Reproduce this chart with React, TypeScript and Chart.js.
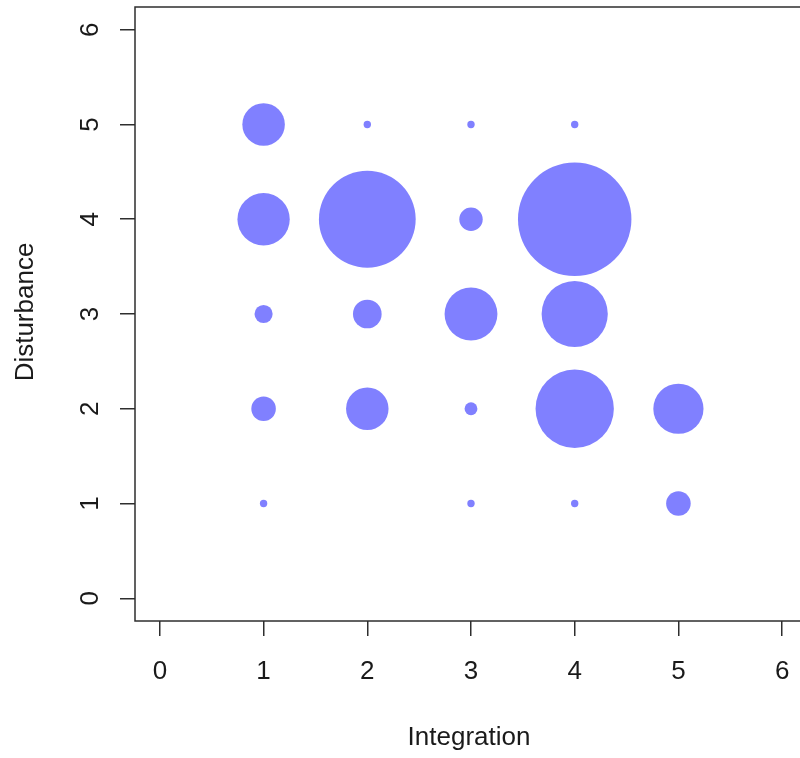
import React, { useEffect, useRef } from "react";
import { Chart, registerables } from "chart.js";

Chart.register(...registerables);

// Data
const integration = [1, 1, 1, 1, 1, 2, 2, 2, 2, 3, 3, 3, 3, 3, 4, 4, 4, 4, 4, 5, 5];
const disturbance = [1, 2, 3, 4, 5, 2, 3, 4, 5, 1, 2, 3, 4, 5, 1, 2, 3, 4, 5, 1, 2];
const counts = [1, 11, 6, 50, 33, 33, 15, 171, 1, 1, 3, 51, 10, 1, 1, 112, 80, 235, 1, 11, 46];
const tickValues = [0, 1, 2, 3, 4, 5, 6];
const tickLabels = ["0", "1", "2", "3", "4", "5", "6"];
const xTitle = "Integration";
const yTitle = "Disturbance";

const FONT = '26px "Liberation Sans", Arial, Helvetica, sans-serif';
const INK = "#1a1a1a";
const LINE = "#2e2e2e";

export default function App() {
  const ref = useRef<HTMLCanvasElement | null>(null);

  useEffect(() => {
    if (!ref.current) return;
    const points = integration.map((x, i) => ({
      x,
      y: disturbance[i],
      r: 3.7 * Math.sqrt(counts[i]),
    }));

    const labelPlugin = {
      id: "rStyle",
      afterDraw(chart: any) {
        const { ctx, chartArea, scales } = chart;
        const xs = scales.x;
        const ys = scales.y;
        ctx.save();
        // plot box
        ctx.strokeStyle = LINE;
        ctx.lineWidth = 1.5;
        ctx.strokeRect(chartArea.left, chartArea.top, chartArea.right - chartArea.left, chartArea.bottom - chartArea.top);
        ctx.fillStyle = INK;
        ctx.font = FONT;
        ctx.textAlign = "center";
        ctx.textBaseline = "alphabetic";
        tickValues.forEach((v, i) => {
          ctx.fillText(tickLabels[i], xs.getPixelForValue(v), 679);
        });
        tickValues.forEach((v, i) => {
          ctx.save();
          ctx.translate(97.5, ys.getPixelForValue(v));
          ctx.rotate(-Math.PI / 2);
          ctx.fillText(tickLabels[i], 0, 0);
          ctx.restore();
        });
        // axis titles
        ctx.fillText(xTitle, xs.getPixelForValue(3) - 2, 745);
        ctx.save();
        ctx.translate(32.5, ys.getPixelForValue(3) - 2);
        ctx.rotate(-Math.PI / 2);
        ctx.fillText(yTitle, 0, 0);
        ctx.restore();
        ctx.restore();
      },
    };

    const setTicks = (scale: any) => {
      scale.ticks = tickValues.map((v) => ({ value: v }));
    };

    const chart = new Chart(ref.current, {
      type: "bubble",
      data: {
        datasets: [
          {
            data: points,
            backgroundColor: "#8080FF",
            borderWidth: 0,
            hoverBorderWidth: 0,
          },
        ],
      },
      options: {
        animation: false,
        responsive: false,
        events: [],
        layout: { autoPadding: false, padding: { top: 7, right: 23, left: 0, bottom: 0 } },
        plugins: { legend: { display: false }, tooltip: { enabled: false } },
        scales: {
          x: {
            type: "linear",
            min: -0.24,
            max: 6.24,
            afterBuildTicks: setTicks,
            afterFit: (s: any) => {
              s.height = 137;
            },
            ticks: { display: false },
            border: { display: false },
            grid: {
              drawOnChartArea: false,
              drawTicks: true,
              tickLength: 15,
              tickColor: LINE,
              lineWidth: 1.5,
            },
          },
          y: {
            type: "linear",
            min: -0.24,
            max: 6.24,
            afterBuildTicks: setTicks,
            afterFit: (s: any) => {
              s.width = 135;
            },
            ticks: { display: false },
            border: { display: false },
            grid: {
              drawOnChartArea: false,
              drawTicks: true,
              tickLength: 15,
              tickColor: LINE,
              lineWidth: 1.5,
            },
          },
        },
      },
      plugins: [labelPlugin],
    });
    return () => chart.destroy();
  }, []);

  return (
    <div
      style={{
        position: "absolute",
        left: 0,
        top: 0,
        width: 800,
        height: 758,
        overflow: "hidden",
        background: "#ffffff",
      }}
    >
      <canvas ref={ref} width={830} height={758} style={{ display: "block" }} />
    </div>
  );
}
